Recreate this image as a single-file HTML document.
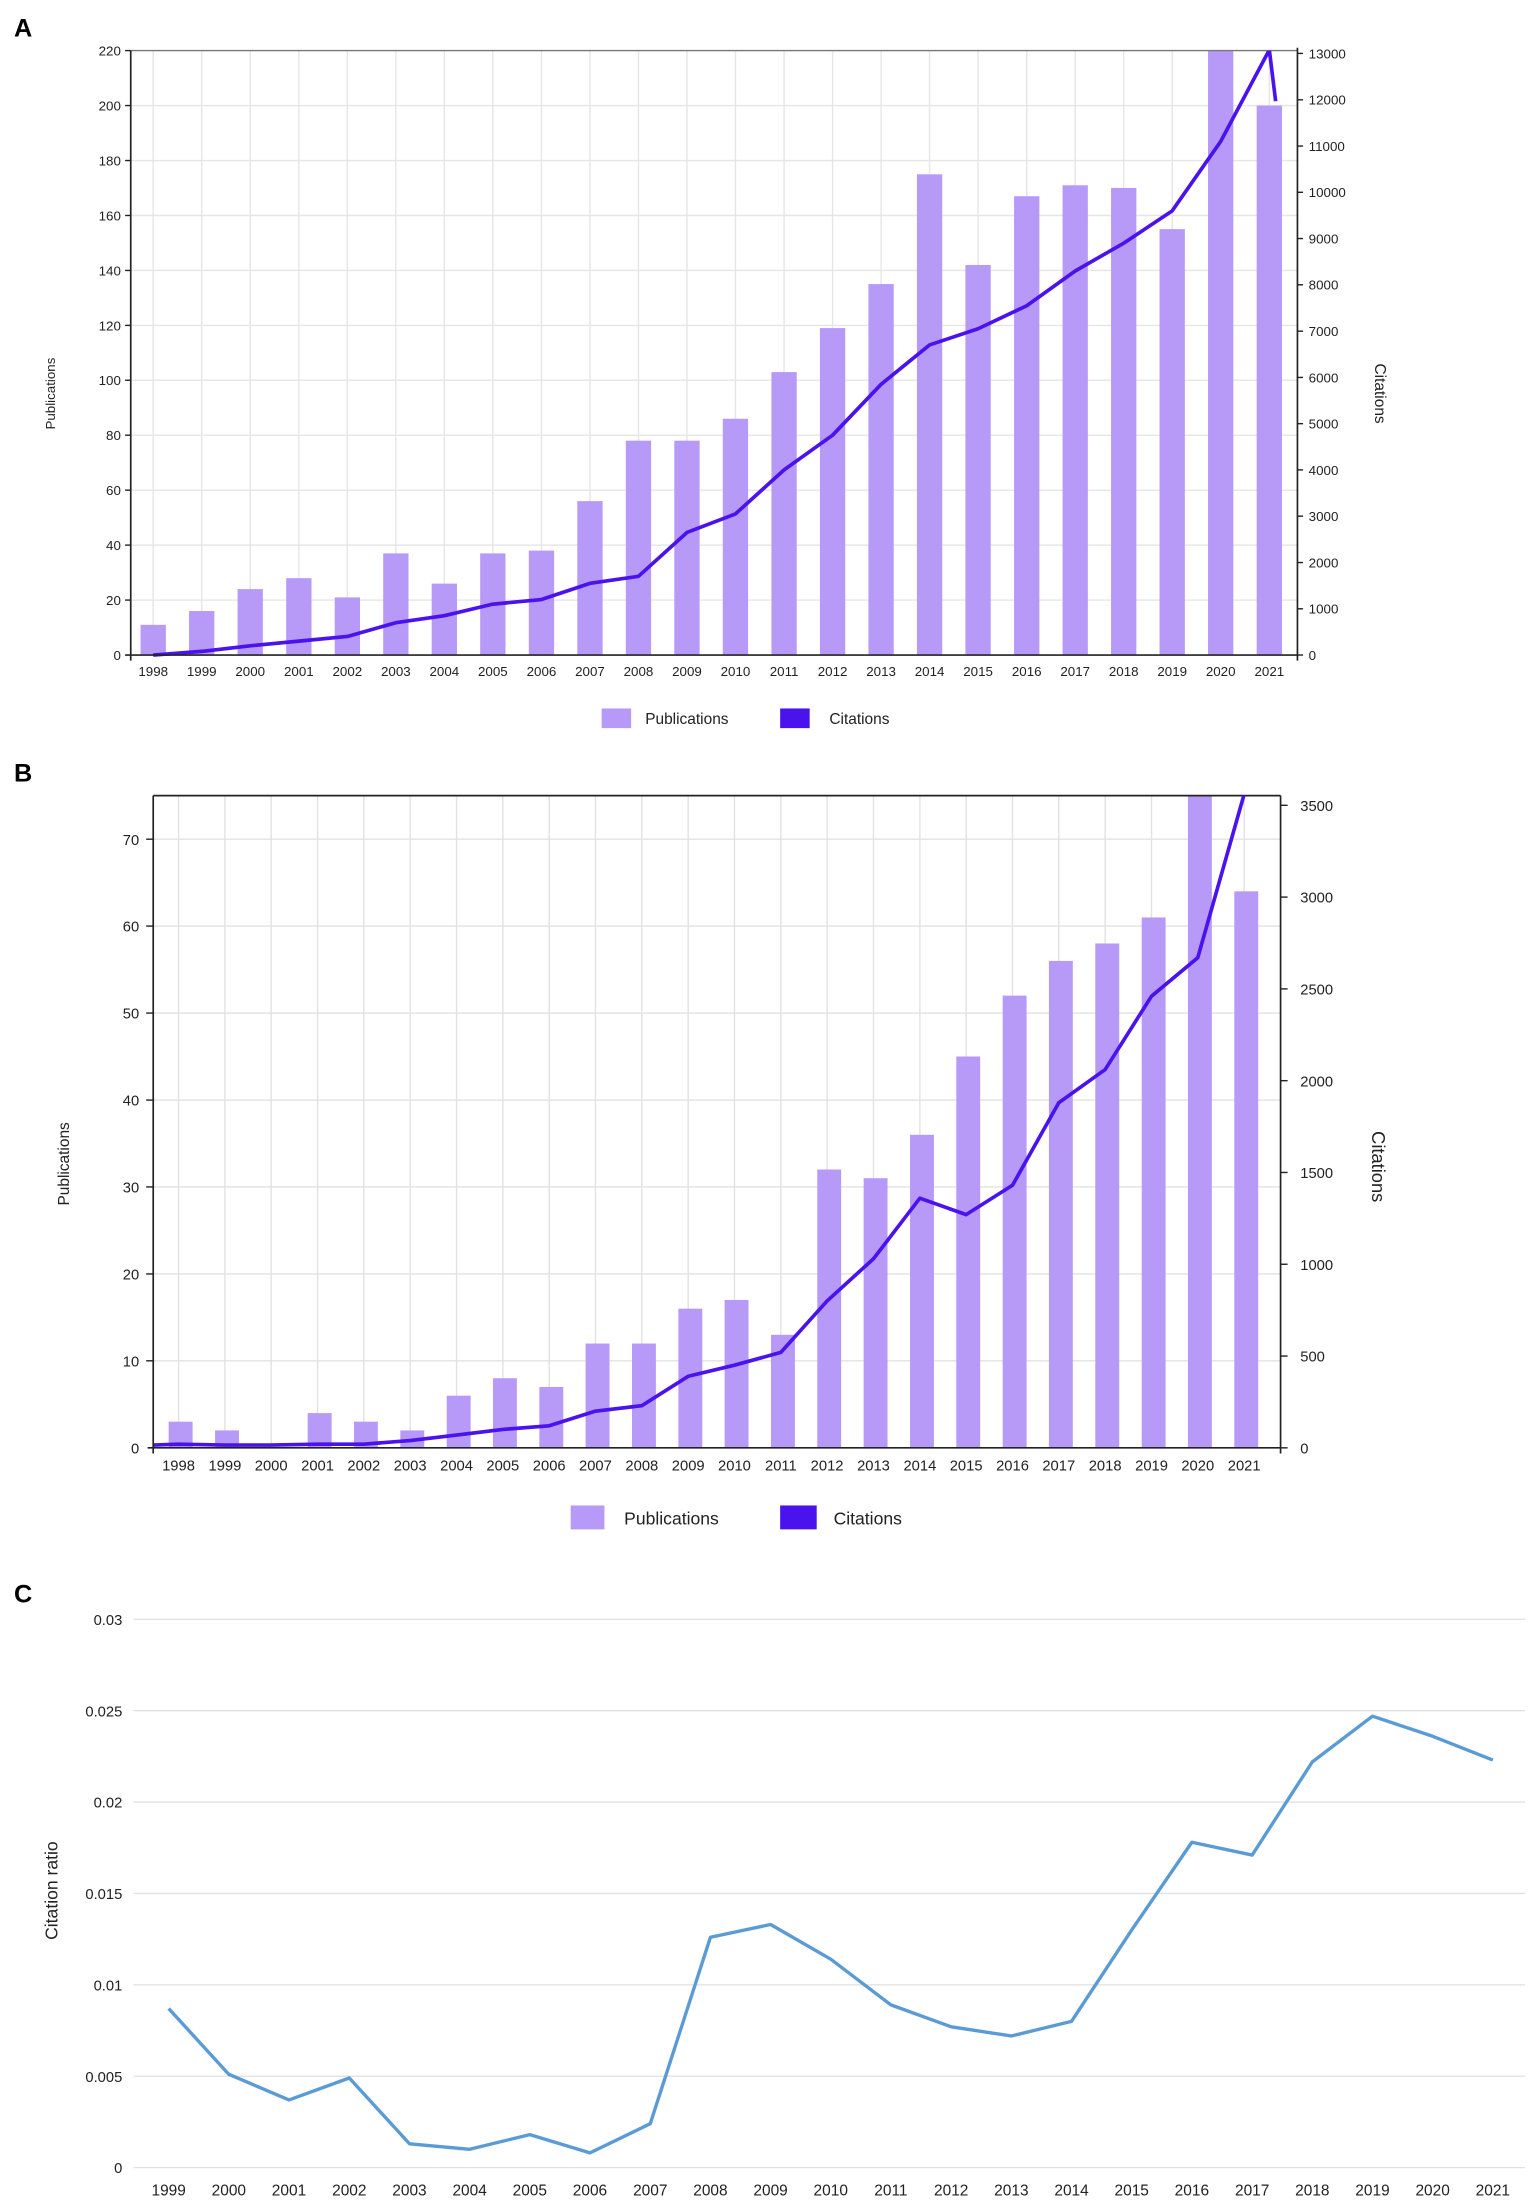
<!DOCTYPE html>
<html><head><meta charset="utf-8"><style>html,body{margin:0;padding:0;background:#fff}svg{display:block}</style></head>
<body>
<svg width="1535" height="2209" viewBox="0 0 1092 1571.5" preserveAspectRatio="none" xmlns="http://www.w3.org/2000/svg" font-family="Liberation Sans, sans-serif">
<rect width="1092" height="1571.5" fill="#fff"/>
<!-- ========== A ========== -->
<text x="10" y="26" font-size="18" font-weight="bold">A</text>
<g stroke="#e6e6e6" stroke-width="1">
<line x1="93" x2="923" y1="426.9" y2="426.9"/><line x1="93" x2="923" y1="387.8" y2="387.8"/><line x1="93" x2="923" y1="348.7" y2="348.7"/><line x1="93" x2="923" y1="309.6" y2="309.6"/><line x1="93" x2="923" y1="270.5" y2="270.5"/><line x1="93" x2="923" y1="231.5" y2="231.5"/><line x1="93" x2="923" y1="192.4" y2="192.4"/><line x1="93" x2="923" y1="153.3" y2="153.3"/><line x1="93" x2="923" y1="114.2" y2="114.2"/><line x1="93" x2="923" y1="75.1" y2="75.1"/>
<line x1="109" x2="109" y1="36" y2="466"/><line x1="143.5" x2="143.5" y1="36" y2="466"/><line x1="178" x2="178" y1="36" y2="466"/><line x1="212.6" x2="212.6" y1="36" y2="466"/><line x1="247.1" x2="247.1" y1="36" y2="466"/><line x1="281.6" x2="281.6" y1="36" y2="466"/><line x1="316.1" x2="316.1" y1="36" y2="466"/><line x1="350.6" x2="350.6" y1="36" y2="466"/><line x1="385.2" x2="385.2" y1="36" y2="466"/><line x1="419.7" x2="419.7" y1="36" y2="466"/><line x1="454.2" x2="454.2" y1="36" y2="466"/><line x1="488.7" x2="488.7" y1="36" y2="466"/><line x1="523.2" x2="523.2" y1="36" y2="466"/><line x1="557.8" x2="557.8" y1="36" y2="466"/><line x1="592.3" x2="592.3" y1="36" y2="466"/><line x1="626.8" x2="626.8" y1="36" y2="466"/><line x1="661.3" x2="661.3" y1="36" y2="466"/><line x1="695.8" x2="695.8" y1="36" y2="466"/><line x1="730.4" x2="730.4" y1="36" y2="466"/><line x1="764.9" x2="764.9" y1="36" y2="466"/><line x1="799.4" x2="799.4" y1="36" y2="466"/><line x1="833.9" x2="833.9" y1="36" y2="466"/><line x1="868.4" x2="868.4" y1="36" y2="466"/><line x1="903" x2="903" y1="36" y2="466"/>
</g>
<g fill="#b799f8">
<rect x="100" y="444.5" width="18" height="21.5"/><rect x="134.5" y="434.7" width="18" height="31.3"/><rect x="169" y="419.1" width="18" height="46.9"/><rect x="203.6" y="411.3" width="18" height="54.7"/><rect x="238.1" y="425" width="18" height="41"/><rect x="272.6" y="393.7" width="18" height="72.3"/><rect x="307.1" y="415.2" width="18" height="50.8"/><rect x="341.6" y="393.7" width="18" height="72.3"/><rect x="376.2" y="391.7" width="18" height="74.3"/><rect x="410.7" y="356.5" width="18" height="109.5"/><rect x="445.2" y="313.5" width="18" height="152.5"/><rect x="479.7" y="313.5" width="18" height="152.5"/><rect x="514.2" y="297.9" width="18" height="168.1"/><rect x="548.8" y="264.7" width="18" height="201.3"/><rect x="583.3" y="233.4" width="18" height="232.6"/><rect x="617.8" y="202.1" width="18" height="263.9"/><rect x="652.3" y="124" width="18" height="342"/><rect x="686.8" y="188.5" width="18" height="277.5"/><rect x="721.4" y="139.6" width="18" height="326.4"/><rect x="755.9" y="131.8" width="18" height="334.2"/><rect x="790.4" y="133.7" width="18" height="332.3"/><rect x="824.9" y="163" width="18" height="303"/><rect x="859.4" y="36" width="18" height="430"/><rect x="894" y="75.1" width="18" height="390.9"/>
</g>
<line x1="93" x2="923" y1="36" y2="36" stroke="#777" stroke-width="1"/>
<svg x="0" y="36" width="1092" height="440" viewBox="0 36 1092 440" overflow="hidden">
<polyline fill="none" stroke="#4a12ec" stroke-width="2.6" stroke-linejoin="round" points="109,466 143.5,463.4 178,459.4 212.6,456.1 247.1,452.8 281.6,443 316.1,438 350.6,429.8 385.2,426.5 419.7,415 454.2,410 488.7,378.8 523.2,365.6 557.8,334.3 592.3,309.6 626.8,273.4 661.3,245.4 695.8,233.9 730.4,217.5 764.9,192.8 799.4,173 833.9,150 868.4,100.6 903,35.5 907.5,72"/>
</svg>
<g stroke="#222" stroke-width="1.2" fill="none">
<line x1="93" x2="93" y1="36" y2="470"/><line x1="923" x2="923" y1="34" y2="470"/><line x1="89" x2="923" y1="466" y2="466"/>
</g>
<g stroke="#222" stroke-width="1">
<line x1="89" x2="93" y1="426.9" y2="426.9"/><line x1="89" x2="93" y1="387.8" y2="387.8"/><line x1="89" x2="93" y1="348.7" y2="348.7"/><line x1="89" x2="93" y1="309.6" y2="309.6"/><line x1="89" x2="93" y1="270.5" y2="270.5"/><line x1="89" x2="93" y1="231.5" y2="231.5"/><line x1="89" x2="93" y1="192.4" y2="192.4"/><line x1="89" x2="93" y1="153.3" y2="153.3"/><line x1="89" x2="93" y1="114.2" y2="114.2"/><line x1="89" x2="93" y1="75.1" y2="75.1"/><line x1="89" x2="93" y1="36" y2="36"/>
<line x1="923" x2="927" y1="433.1" y2="433.1"/><line x1="923" x2="927" y1="400.2" y2="400.2"/><line x1="923" x2="927" y1="367.2" y2="367.2"/><line x1="923" x2="927" y1="334.3" y2="334.3"/><line x1="923" x2="927" y1="301.4" y2="301.4"/><line x1="923" x2="927" y1="268.5" y2="268.5"/><line x1="923" x2="927" y1="235.6" y2="235.6"/><line x1="923" x2="927" y1="202.6" y2="202.6"/><line x1="923" x2="927" y1="169.7" y2="169.7"/><line x1="923" x2="927" y1="136.8" y2="136.8"/><line x1="923" x2="927" y1="103.9" y2="103.9"/><line x1="923" x2="927" y1="71" y2="71"/><line x1="923" x2="927" y1="38" y2="38"/><line x1="923" x2="927" y1="466" y2="466"/>
</g>
<g font-size="9.5" fill="#222" text-anchor="end">
<text x="86" y="469.5">0</text><text x="86" y="430.4">20</text><text x="86" y="391.3">40</text><text x="86" y="352.2">60</text><text x="86" y="313.1">80</text><text x="86" y="274">100</text><text x="86" y="235">120</text><text x="86" y="195.9">140</text><text x="86" y="156.8">160</text><text x="86" y="117.7">180</text><text x="86" y="78.6">200</text><text x="86" y="39.5">220</text>
</g>
<g font-size="9.5" fill="#222">
<text x="931" y="469.5">0</text><text x="931" y="436.6">1000</text><text x="931" y="403.7">2000</text><text x="931" y="370.7">3000</text><text x="931" y="337.8">4000</text><text x="931" y="304.9">5000</text><text x="931" y="272">6000</text><text x="931" y="239.1">7000</text><text x="931" y="206.1">8000</text><text x="931" y="173.2">9000</text><text x="931" y="140.3">10000</text><text x="931" y="107.4">11000</text><text x="931" y="74.5">12000</text><text x="931" y="41.5">13000</text>
</g>
<g font-size="9.5" fill="#222" text-anchor="middle">
<text x="109" y="481">1998</text><text x="143.5" y="481">1999</text><text x="178" y="481">2000</text><text x="212.6" y="481">2001</text><text x="247.1" y="481">2002</text><text x="281.6" y="481">2003</text><text x="316.1" y="481">2004</text><text x="350.6" y="481">2005</text><text x="385.2" y="481">2006</text><text x="419.7" y="481">2007</text><text x="454.2" y="481">2008</text><text x="488.7" y="481">2009</text><text x="523.2" y="481">2010</text><text x="557.8" y="481">2011</text><text x="592.3" y="481">2012</text><text x="626.8" y="481">2013</text><text x="661.3" y="481">2014</text><text x="695.8" y="481">2015</text><text x="730.4" y="481">2016</text><text x="764.9" y="481">2017</text><text x="799.4" y="481">2018</text><text x="833.9" y="481">2019</text><text x="868.4" y="481">2020</text><text x="903" y="481">2021</text>
</g>
<text transform="translate(39,280) rotate(-90)" font-size="9.5" text-anchor="middle" fill="#222">Publications</text>
<text transform="translate(978,280) rotate(90)" font-size="11" text-anchor="middle" fill="#222">Citations</text>
<rect x="428" y="504" width="21" height="14" fill="#b799f8"/><text x="459" y="515" font-size="11" fill="#222">Publications</text>
<rect x="555" y="504" width="21" height="14" fill="#4a12ec"/><text x="590" y="515" font-size="11" fill="#222">Citations</text>

<!-- ========== B ========== -->
<text x="10" y="556" font-size="18" font-weight="bold">B</text>
<g stroke="#e2e2e2" stroke-width="1">
<line x1="109" x2="911" y1="968.1" y2="968.1"/><line x1="109" x2="911" y1="906.3" y2="906.3"/><line x1="109" x2="911" y1="844.4" y2="844.4"/><line x1="109" x2="911" y1="782.6" y2="782.6"/><line x1="109" x2="911" y1="720.7" y2="720.7"/><line x1="109" x2="911" y1="658.8" y2="658.8"/><line x1="109" x2="911" y1="597" y2="597"/>
<line x1="127" x2="127" y1="566" y2="1030"/><line x1="160" x2="160" y1="566" y2="1030"/><line x1="192.9" x2="192.9" y1="566" y2="1030"/><line x1="225.9" x2="225.9" y1="566" y2="1030"/><line x1="258.8" x2="258.8" y1="566" y2="1030"/><line x1="291.8" x2="291.8" y1="566" y2="1030"/><line x1="324.8" x2="324.8" y1="566" y2="1030"/><line x1="357.7" x2="357.7" y1="566" y2="1030"/><line x1="390.7" x2="390.7" y1="566" y2="1030"/><line x1="423.6" x2="423.6" y1="566" y2="1030"/><line x1="456.6" x2="456.6" y1="566" y2="1030"/><line x1="489.6" x2="489.6" y1="566" y2="1030"/><line x1="522.5" x2="522.5" y1="566" y2="1030"/><line x1="555.5" x2="555.5" y1="566" y2="1030"/><line x1="588.4" x2="588.4" y1="566" y2="1030"/><line x1="621.4" x2="621.4" y1="566" y2="1030"/><line x1="654.4" x2="654.4" y1="566" y2="1030"/><line x1="687.3" x2="687.3" y1="566" y2="1030"/><line x1="720.3" x2="720.3" y1="566" y2="1030"/><line x1="753.2" x2="753.2" y1="566" y2="1030"/><line x1="786.2" x2="786.2" y1="566" y2="1030"/><line x1="819.2" x2="819.2" y1="566" y2="1030"/><line x1="852.1" x2="852.1" y1="566" y2="1030"/><line x1="885.1" x2="885.1" y1="566" y2="1030"/>
</g>
<g fill="#b799f8">
<rect x="120" y="1011.4" width="17" height="18.6"/><rect x="153" y="1017.6" width="17" height="12.4"/><rect x="218.9" y="1005.3" width="17" height="24.7"/><rect x="251.8" y="1011.4" width="17" height="18.6"/><rect x="284.8" y="1017.6" width="17" height="12.4"/><rect x="317.8" y="992.9" width="17" height="37.1"/><rect x="350.7" y="980.5" width="17" height="49.5"/><rect x="383.7" y="986.7" width="17" height="43.3"/><rect x="416.6" y="955.8" width="17" height="74.2"/><rect x="449.6" y="955.8" width="17" height="74.2"/><rect x="482.6" y="931" width="17" height="99"/><rect x="515.5" y="924.8" width="17" height="105.2"/><rect x="548.5" y="949.6" width="17" height="80.4"/><rect x="581.4" y="832" width="17" height="198"/><rect x="614.4" y="838.2" width="17" height="191.8"/><rect x="647.4" y="807.3" width="17" height="222.7"/><rect x="680.3" y="751.6" width="17" height="278.4"/><rect x="713.3" y="708.3" width="17" height="321.7"/><rect x="746.2" y="683.6" width="17" height="346.4"/><rect x="779.2" y="671.2" width="17" height="358.8"/><rect x="812.2" y="652.7" width="17" height="377.3"/><rect x="845.1" y="566" width="17" height="464"/><rect x="878.1" y="634.1" width="17" height="395.9"/>
</g>
<line x1="109" x2="911" y1="566" y2="566" stroke="#222" stroke-width="1.2"/>
<svg x="0" y="566" width="1092" height="470" viewBox="0 566 1092 470" overflow="hidden">
<polyline fill="none" stroke="#4a12ec" stroke-width="2.6" stroke-linejoin="round" points="109,1028 127,1027.4 160,1028 192.9,1028 225.9,1027.4 258.8,1027.4 291.8,1024.8 324.8,1020.9 357.7,1016.9 390.7,1014.3 423.6,1003.9 456.6,1000 489.6,979.1 522.5,971.2 555.5,962.1 588.4,925.5 621.4,895.5 654.4,852.4 687.3,864.1 720.3,843.2 753.2,784.5 786.2,760.9 819.2,708.7 852.1,681.3 885.1,565"/>
</svg>
<g stroke="#222" stroke-width="1.2" fill="none">
<line x1="109" x2="109" y1="566" y2="1034"/><line x1="911" x2="911" y1="566" y2="1034"/><line x1="105" x2="911" y1="1030" y2="1030"/>
</g>
<g stroke="#222" stroke-width="1">
<line x1="104" x2="109" y1="968.1" y2="968.1"/><line x1="104" x2="109" y1="906.3" y2="906.3"/><line x1="104" x2="109" y1="844.4" y2="844.4"/><line x1="104" x2="109" y1="782.6" y2="782.6"/><line x1="104" x2="109" y1="720.7" y2="720.7"/><line x1="104" x2="109" y1="658.8" y2="658.8"/><line x1="104" x2="109" y1="597" y2="597"/>
<line x1="911" x2="916" y1="1030" y2="1030"/><line x1="911" x2="916" y1="964.7" y2="964.7"/><line x1="911" x2="916" y1="899.4" y2="899.4"/><line x1="911" x2="916" y1="834.1" y2="834.1"/><line x1="911" x2="916" y1="768.8" y2="768.8"/><line x1="911" x2="916" y1="703.5" y2="703.5"/><line x1="911" x2="916" y1="638.2" y2="638.2"/><line x1="911" x2="916" y1="572.9" y2="572.9"/>
</g>
<g font-size="10.5" fill="#222" text-anchor="end">
<text x="99" y="1034">0</text><text x="99" y="972.1">10</text><text x="99" y="910.3">20</text><text x="99" y="848.4">30</text><text x="99" y="786.6">40</text><text x="99" y="724.7">50</text><text x="99" y="662.8">60</text><text x="99" y="601">70</text>
</g>
<g font-size="10.5" fill="#222">
<text x="925" y="1034">0</text><text x="925" y="968.7">500</text><text x="925" y="903.4">1000</text><text x="925" y="838.1">1500</text><text x="925" y="772.8">2000</text><text x="925" y="707.5">2500</text><text x="925" y="642.2">3000</text><text x="925" y="576.9">3500</text>
</g>
<g font-size="10.5" fill="#222" text-anchor="middle">
<text x="127" y="1046">1998</text><text x="160" y="1046">1999</text><text x="192.9" y="1046">2000</text><text x="225.9" y="1046">2001</text><text x="258.8" y="1046">2002</text><text x="291.8" y="1046">2003</text><text x="324.8" y="1046">2004</text><text x="357.7" y="1046">2005</text><text x="390.7" y="1046">2006</text><text x="423.6" y="1046">2007</text><text x="456.6" y="1046">2008</text><text x="489.6" y="1046">2009</text><text x="522.5" y="1046">2010</text><text x="555.5" y="1046">2011</text><text x="588.4" y="1046">2012</text><text x="621.4" y="1046">2013</text><text x="654.4" y="1046">2014</text><text x="687.3" y="1046">2015</text><text x="720.3" y="1046">2016</text><text x="753.2" y="1046">2017</text><text x="786.2" y="1046">2018</text><text x="819.2" y="1046">2019</text><text x="852.1" y="1046">2020</text><text x="885.1" y="1046">2021</text>
</g>
<text transform="translate(49,828) rotate(-90)" font-size="11" text-anchor="middle" fill="#222">Publications</text>
<text transform="translate(976,830) rotate(90)" font-size="13" text-anchor="middle" fill="#222">Citations</text>
<rect x="406" y="1071" width="24" height="17" fill="#b799f8"/><text x="444" y="1084.5" font-size="12.5" fill="#222">Publications</text>
<rect x="555" y="1071" width="26" height="17" fill="#4a12ec"/><text x="593" y="1084.5" font-size="12.5" fill="#222">Citations</text>

<!-- ========== C ========== -->
<text x="10" y="1140" font-size="18" font-weight="bold">C</text>
<g stroke="#e2e2e2" stroke-width="1">
<line x1="95" x2="1085" y1="1542" y2="1542"/><line x1="95" x2="1085" y1="1477" y2="1477"/><line x1="95" x2="1085" y1="1412" y2="1412"/><line x1="95" x2="1085" y1="1347" y2="1347"/><line x1="95" x2="1085" y1="1282" y2="1282"/><line x1="95" x2="1085" y1="1217" y2="1217"/><line x1="95" x2="1085" y1="1152" y2="1152"/>
</g>
<g font-size="10.5" fill="#222" text-anchor="end">
<text x="87" y="1546">0</text><text x="87" y="1481">0.005</text><text x="87" y="1416">0.01</text><text x="87" y="1351">0.015</text><text x="87" y="1286">0.02</text><text x="87" y="1221">0.025</text><text x="87" y="1156">0.03</text>
</g>
<polyline fill="none" stroke="#5b9bd5" stroke-width="2.4" stroke-linejoin="round" points="120,1428.9 162.8,1475.7 205.6,1493.9 248.5,1478.3 291.3,1525.1 334.1,1529 376.9,1518.6 419.7,1531.6 462.6,1510.8 505.4,1378.2 548.2,1369.1 591,1393.8 633.8,1426.3 676.7,1441.9 719.5,1448.4 762.3,1438 805.1,1373 847.9,1310.6 890.8,1319.7 933.6,1253.4 976.4,1220.9 1019.2,1235.2 1062,1252.1"/>
<g font-size="11" fill="#222" text-anchor="middle">
<text x="120" y="1562">1999</text><text x="162.8" y="1562">2000</text><text x="205.6" y="1562">2001</text><text x="248.5" y="1562">2002</text><text x="291.3" y="1562">2003</text><text x="334.1" y="1562">2004</text><text x="376.9" y="1562">2005</text><text x="419.7" y="1562">2006</text><text x="462.6" y="1562">2007</text><text x="505.4" y="1562">2008</text><text x="548.2" y="1562">2009</text><text x="591" y="1562">2010</text><text x="633.8" y="1562">2011</text><text x="676.7" y="1562">2012</text><text x="719.5" y="1562">2013</text><text x="762.3" y="1562">2014</text><text x="805.1" y="1562">2015</text><text x="847.9" y="1562">2016</text><text x="890.8" y="1562">2017</text><text x="933.6" y="1562">2018</text><text x="976.4" y="1562">2019</text><text x="1019.2" y="1562">2020</text><text x="1062" y="1562">2021</text>
</g>
<text transform="translate(41,1345) rotate(-90)" font-size="12.5" text-anchor="middle" fill="#222">Citation ratio</text>
</svg>
</body></html>
